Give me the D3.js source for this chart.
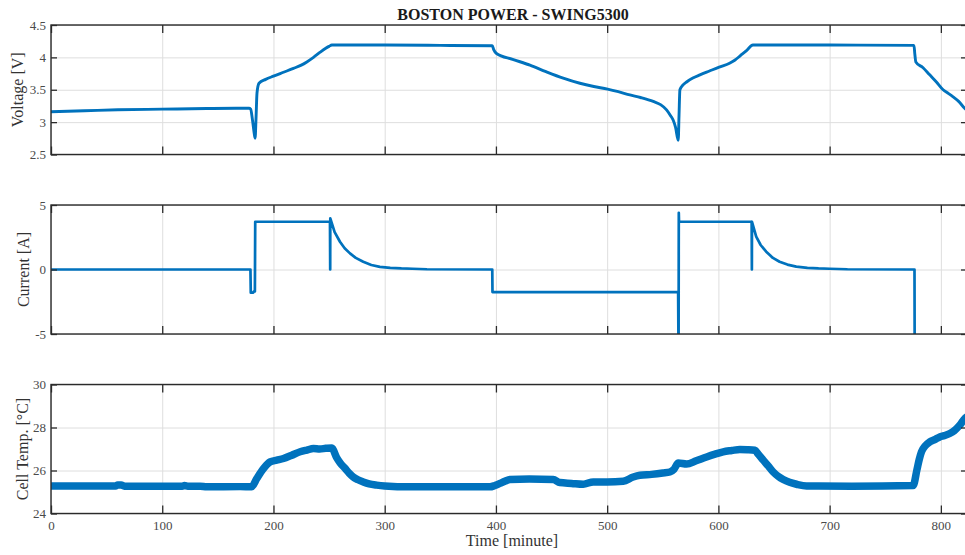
<!DOCTYPE html>
<html>
<head>
<meta charset="utf-8">
<script src="https://cdn.jsdelivr.net/npm/d3@7"></script>
<style>
  html, body { margin: 0; padding: 0; background: #fff; overflow: hidden; }
  svg { display: block; font-family: "Liberation Serif", "Times New Roman", serif; }
</style>
</head>
<body>
<svg id="chart" width="965" height="555"></svg>
<script>
// ---------------- DATA ----------------
const titleText = "BOSTON POWER - SWING5300";
const xLabel = "Time [minute]";
const xTicks = [0, 100, 200, 300, 400, 500, 600, 700, 800];
const xDomain = [0, 823.5];

const voltTicks = [2.5, 3, 3.5, 4, 4.5];
const currTicks = [-5, 0, 5];
const tempTicks = [24, 26, 28, 30];

// Voltage [V]
const timeV = [0, 30, 60, 100, 140, 178, 179.5, 181, 182.5, 183.5, 184.3, 185.2, 187, 193, 200, 209, 218, 225, 230, 236, 242, 247, 250, 252.5, 300, 350, 396.7, 398, 400.5, 415, 430.6, 445, 460.5, 475.5, 488, 500.4, 510, 520.4, 530, 541.4, 548, 553.4, 557, 559.4, 561.5, 563.9, 564.6, 565.4, 568, 571.4, 577, 583.4, 592, 600.7, 610, 615, 620, 625, 631, 700, 775.8, 776.6, 777.5, 784, 790, 796, 802, 807, 811, 816, 821.6, 823.5];
const voltage = [3.16, 3.175, 3.19, 3.2, 3.21, 3.215, 3.2, 3.05, 2.85, 2.75, 3.05, 3.45, 3.6, 3.66, 3.71, 3.77, 3.83, 3.88, 3.93, 4.0, 4.08, 4.14, 4.17, 4.19, 4.19, 4.185, 4.18, 4.12, 4.06, 3.97, 3.88, 3.78, 3.68, 3.6, 3.55, 3.51, 3.47, 3.42, 3.38, 3.32, 3.27, 3.19, 3.1, 3.03, 2.92, 2.72, 3.1, 3.5, 3.57, 3.62, 3.68, 3.73, 3.79, 3.85, 3.91, 3.96, 4.03, 4.1, 4.19, 4.19, 4.185, 4.05, 3.93, 3.84, 3.73, 3.62, 3.5, 3.44, 3.39, 3.32, 3.21, 3.18];

// Current [A]
const timeI = [0, 179.3, 179.6, 181.8, 182.4, 183.3, 183.6, 250.7, 250.8, 251.0, 251.1, 255, 259.8, 264, 268.8, 274, 280.7, 288, 295.7, 305, 315, 325, 338, 396.7, 396.9, 563.6, 563.8, 564.2, 564.4, 564.6, 565.4, 629.8, 629.9, 630.1, 630.2, 634, 638, 643, 649, 655, 662, 670, 680, 690, 700, 716, 776.3, 776.5, 823.5];
const current = [0, 0, -1.8, -1.8, -1.7, -1.7, 3.7, 3.7, 3.7, 0, 3.97, 2.9, 2.15, 1.65, 1.25, 0.9, 0.6, 0.35, 0.2, 0.12, 0.08, 0.06, 0.02, 0, -1.75, -1.75, -1.75, -7, 4.4, 3.7, 3.7, 3.7, 3.7, 0, 3.7, 2.54, 1.9, 1.38, 0.9, 0.6, 0.38, 0.22, 0.13, 0.08, 0.06, 0.02, 0, -8, -8];

// Cell temperature [°C]
const timeT = [0, 58, 60, 63, 66, 118, 120, 123, 134, 140, 170, 180.5, 185, 191, 197, 203, 209, 216, 224, 230, 236, 241.6, 247, 252.3, 256.8, 260, 264.3, 268, 271.7, 276, 280.7, 286, 292.7, 300, 322.7, 360, 394.6, 399, 403.6, 408, 412.6, 430, 451.5, 457.5, 468, 478.5, 487.5, 500, 514.4, 523.4, 529.4, 540, 550, 556.4, 560, 564, 571.4, 580, 589.4, 597, 604.3, 612, 619.3, 626, 632.8, 636, 640.3, 645, 649.3, 654, 658.3, 664, 670.3, 679.3, 720, 775.1, 778.4, 780.5, 782.6, 786, 790, 795, 799, 803, 808, 812, 817, 821.6, 823.5];
const temperature = [25.28, 25.28, 25.33, 25.33, 25.27, 25.27, 25.3, 25.27, 25.27, 25.24, 25.25, 25.25, 25.63, 26.09, 26.4, 26.48, 26.56, 26.7, 26.87, 26.95, 27.02, 27.0, 27.03, 27.05, 26.6, 26.35, 26.1, 25.88, 25.7, 25.57, 25.47, 25.38, 25.32, 25.28, 25.24, 25.24, 25.24, 25.3, 25.4, 25.5, 25.58, 25.6, 25.58, 25.44, 25.4, 25.36, 25.47, 25.47, 25.5, 25.7, 25.78, 25.82, 25.88, 25.93, 26.05, 26.35, 26.3, 26.45, 26.63, 26.76, 26.87, 26.93, 26.98, 26.97, 26.94, 26.75, 26.48, 26.2, 25.93, 25.72, 25.58, 25.45, 25.36, 25.28, 25.27, 25.3, 26.01, 26.5, 26.87, 27.15, 27.33, 27.45, 27.56, 27.62, 27.72, 27.85, 28.11, 28.42, 28.5];

// ---------------- LAYOUT ----------------
const svg = d3.select("#chart");
const left = 51, right = 967;
const blue = "#0072BD";
const axisCol = "#2b2b2b";
const gridCol = "#dedede";
const tickLabCol = "#4a4a4a";

const x = d3.scaleLinear().domain(xDomain).range([left, right]);

const panels = [
  { top: 25, bottom: 154.5, domain: [2.5, 4.5], ticks: voltTicks, label: "Voltage [V]", labelX: 22.5,
    t: timeV, v: voltage, width: 2.9, curve: d3.curveMonotoneX },
  { top: 205, bottom: 334, domain: [-5, 5], ticks: currTicks, label: "Current [A]", labelX: 28.5,
    t: timeI, v: current, width: 2.7, curve: d3.curveLinear },
  { top: 384.5, bottom: 513.5, domain: [24, 30], ticks: tempTicks, label: "Cell Temp. [\u00B0C]", labelX: 27.5,
    t: timeT, v: temperature, width: 7.5, curve: d3.curveMonotoneX }
];

panels.forEach((p, i) => {
  const y = d3.scaleLinear().domain(p.domain).range([p.bottom, p.top]);
  const h = p.bottom - p.top;
  const g = svg.append("g");

  const cid = "clip" + i;
  svg.append("clipPath").attr("id", cid)
    .append("rect").attr("x", left).attr("y", p.top).attr("width", right - left).attr("height", h);

  // grid
  const gy = g.append("g").attr("transform", `translate(${left},0)`)
    .call(d3.axisLeft(y).tickValues(p.ticks).tickSize(-(right - left)).tickFormat(""));
  gy.select(".domain").remove();
  gy.selectAll("line").attr("stroke", gridCol).attr("stroke-width", 1);

  const gx = g.append("g").attr("transform", `translate(0,${p.bottom})`)
    .call(d3.axisBottom(x).tickValues(xTicks).tickSize(-h).tickFormat(""));
  gx.select(".domain").remove();
  gx.selectAll("line").attr("stroke", gridCol).attr("stroke-width", 1);

  // data line
  const pts = p.t.map((t, k) => [t, p.v[k]]);
  const line = d3.line().curve(p.curve).x(d => x(d[0])).y(d => y(d[1]));
  g.append("path").datum(pts)
    .attr("clip-path", `url(#${cid})`)
    .attr("d", line)
    .attr("fill", "none")
    .attr("stroke", blue)
    .attr("stroke-width", p.width)
    .attr("stroke-linejoin", "round")
    .attr("stroke-linecap", "round");

  // inward ticks on all four sides
  const tb = g.append("g").attr("transform", `translate(0,${p.bottom})`)
    .call(d3.axisBottom(x).tickValues(xTicks).tickSize(-8).tickFormat(""));
  const tt = g.append("g").attr("transform", `translate(0,${p.top})`)
    .call(d3.axisTop(x).tickValues(xTicks).tickSize(-8).tickFormat(""));
  const tl = g.append("g").attr("transform", `translate(${left},0)`)
    .call(d3.axisLeft(y).tickValues(p.ticks).tickSize(-6).tickFormat(""));
  const tr = g.append("g").attr("transform", `translate(${right},0)`)
    .call(d3.axisRight(y).tickValues(p.ticks).tickSize(-6).tickFormat(""));
  [tb, tt, tl, tr].forEach(a => {
    a.select(".domain").remove();
    a.selectAll("line").attr("stroke", axisCol).attr("stroke-width", 1.3);
  });

  // box
  g.append("rect").attr("x", left).attr("y", p.top).attr("width", right - left).attr("height", h)
    .attr("fill", "none").attr("stroke", axisCol).attr("stroke-width", 1.4);

  // y tick labels
  const yl = g.append("g").attr("transform", `translate(${left},0)`)
    .call(d3.axisLeft(y).tickValues(p.ticks).tickSize(0).tickPadding(5).tickFormat(d => String(d)));
  yl.select(".domain").remove();
  yl.selectAll("text").attr("fill", tickLabCol).style("font-size", "13px")
    .style("font-family", "'Liberation Serif', serif");

  // y label
  g.append("text")
    .attr("transform", `translate(${p.labelX},${(p.top + p.bottom) / 2}) rotate(-90)`)
    .attr("text-anchor", "middle")
    .attr("fill", "#333")
    .style("font-size", "16px")
    .text(p.label);

  if (i === panels.length - 1) {
    const xl = g.append("g").attr("transform", `translate(0,${p.bottom})`)
      .call(d3.axisBottom(x).tickValues(xTicks).tickSize(0).tickPadding(7).tickFormat(d => String(d)));
    xl.select(".domain").remove();
    xl.selectAll("text").attr("fill", tickLabCol).style("font-size", "13px")
      .style("font-family", "'Liberation Serif', serif");
  }
});

// title
svg.append("text")
  .attr("x", 513).attr("y", 20)
  .attr("text-anchor", "middle")
  .attr("fill", "#1a1a1a")
  .style("font-size", "16px")
  .style("font-weight", "bold")
  .text(titleText);

// x label
svg.append("text")
  .attr("x", 512).attr("y", 546)
  .attr("text-anchor", "middle")
  .attr("fill", "#333")
  .style("font-size", "16px")
  .text(xLabel);
</script>
</body>
</html>
